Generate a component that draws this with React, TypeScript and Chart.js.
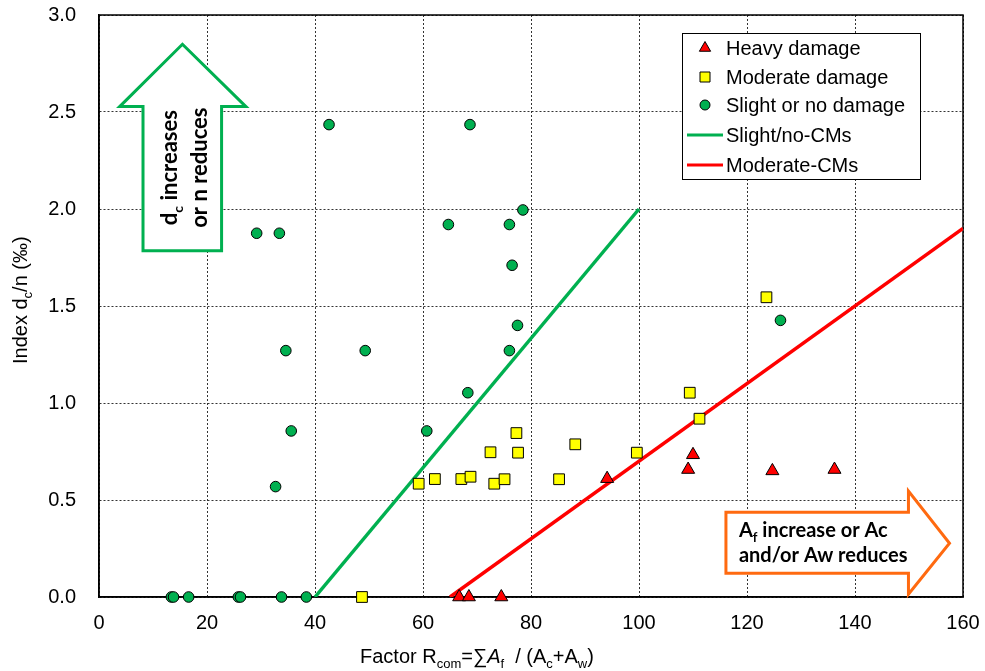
import React, { useEffect, useRef } from 'react';
import { Chart, registerables } from 'chart.js';

Chart.register(...registerables);

// ---- data ----
const heavyX = [66.7, 68.5, 74.5, 94.1, 109.1, 110.0, 124.7, 136.2];
const heavyY = [0, 0, 0, 0.61, 0.657, 0.733, 0.65, 0.657];

const moderateX = [48.7, 59.2, 62.2, 67.1, 68.8, 72.5, 73.2, 75.1, 77.3, 77.6, 85.2, 88.2, 99.6, 109.4, 111.2, 123.6];
const moderateY = [0, 0.584, 0.608, 0.608, 0.62, 0.746, 0.584, 0.607, 0.845, 0.744, 0.607, 0.787, 0.744, 1.053, 0.919, 1.545];

const slightX = [13.4, 13.8, 16.6, 25.8, 26.2, 33.8, 38.4, 29.2, 33.4, 42.6, 68.7, 78.5, 64.7, 76.0, 76.5, 77.5, 76.0, 49.3, 34.6, 68.3, 35.6, 32.7, 60.7, 126.2];
const slightY = [0, 0, 0, 0, 0, 0, 0, 1.875, 1.875, 2.435, 2.435, 1.995, 1.92, 1.92, 1.71, 1.40, 1.27, 1.27, 1.27, 1.053, 0.856, 0.569, 0.856, 1.426];

const slightLineX = [40, 100];
const slightLineY = [0, 2.0];
const moderateLineX = [65, 160];
const moderateLineY = [0, 1.9];

const xTicks = [0, 20, 40, 60, 80, 100, 120, 140, 160];
const yTicks = [0, 0.5, 1.0, 1.5, 2.0, 2.5, 3.0];

const legendLabels = ['Heavy damage', 'Moderate damage', 'Slight or no damage', 'Slight/no-CMs', 'Moderate-CMs'];

// arrow annotations, in data units
const upArrow = { tipX: 15.45, tipY: 2.849, headY: 2.528, headL: 3.83, headR: 27.2, shaftL: 8.15, shaftR: 22.7, bottomY: 1.785 };
const rightArrow = { left: 116.1, top: 0.4366, bottom: 0.122, shaftEnd: 149.9, headTop: 0.546, headBottom: 0.0139, tipX: 157.5, tipY: 0.277 };

const GREEN = '#00B050';
const RED = '#FF0000';
const YELLOW = '#FFFF00';
const ORANGE = '#FF6A10';
const FONT = '"Liberation Sans", Arial, sans-serif';

type Part = { t: string; sub?: boolean; italic?: boolean };

function richWidth(ctx: CanvasRenderingContext2D, parts: Part[], size: number, family: string, weight = '') {
  let w = 0;
  for (const p of parts) {
    const s = p.sub ? Math.round(size * 0.65) : size;
    ctx.font = `${p.italic ? 'italic ' : ''}${weight}${s}px ${family}`;
    w += ctx.measureText(p.t).width;
  }
  return w;
}

function drawRich(ctx: CanvasRenderingContext2D, parts: Part[], x: number, y: number, size: number, family: string, weight = '') {
  let cx = x;
  ctx.textBaseline = 'alphabetic';
  ctx.textAlign = 'left';
  for (const p of parts) {
    const s = p.sub ? Math.round(size * 0.65) : size;
    ctx.font = `${p.italic ? 'italic ' : ''}${weight}${s}px ${family}`;
    ctx.fillText(p.t, cx, y + (p.sub ? size * 0.25 : 0));
    cx += ctx.measureText(p.t).width;
  }
}

function marker(ctx: CanvasRenderingContext2D, kind: string, x: number, y: number) {
  ctx.save();
  ctx.lineWidth = 1;
  ctx.strokeStyle = '#000';
  ctx.beginPath();
  if (kind === 'triangle') {
    ctx.fillStyle = RED;
    const r = 6.5;
    ctx.moveTo(x, y - r);
    ctx.lineTo(x + r * 0.866, y + r * 0.5);
    ctx.lineTo(x - r * 0.866, y + r * 0.5);
    ctx.closePath();
  } else if (kind === 'rect') {
    ctx.fillStyle = YELLOW;
    ctx.rect(x - 5, y - 5, 10, 10);
  } else {
    ctx.fillStyle = GREEN;
    ctx.arc(x, y, 5, 0, Math.PI * 2);
  }
  ctx.fill();
  ctx.stroke();
  ctx.restore();
}

const overlay = {
  id: 'overlay',
  beforeDatasetsDraw(chart: any) {
    const { ctx, chartArea: a, scales } = chart;
    const X = (v: number) => scales.x.getPixelForValue(v);
    const Y = (v: number) => scales.y.getPixelForValue(v);
    ctx.save();
    // plot frame
    ctx.strokeStyle = '#000';
    ctx.lineWidth = 1.5;
    ctx.strokeRect(a.left, a.top, a.right - a.left, a.bottom - a.top);

    // green up arrow
    const u = upArrow;
    ctx.beginPath();
    ctx.moveTo(X(u.tipX), Y(u.tipY));
    ctx.lineTo(X(u.headR), Y(u.headY));
    ctx.lineTo(X(u.shaftR), Y(u.headY));
    ctx.lineTo(X(u.shaftR), Y(u.bottomY));
    ctx.lineTo(X(u.shaftL), Y(u.bottomY));
    ctx.lineTo(X(u.shaftL), Y(u.headY));
    ctx.lineTo(X(u.headL), Y(u.headY));
    ctx.closePath();
    ctx.fillStyle = '#fff';
    ctx.fill();
    ctx.lineWidth = 3;
    ctx.strokeStyle = GREEN;
    ctx.lineJoin = 'miter';
    ctx.stroke();

    ctx.fillStyle = '#000';
    const cy = (Y(u.headY) + Y(u.bottomY)) / 2 - 11;
    const midX = (X(u.shaftL) + X(u.shaftR)) / 2;
    const lines: Part[][] = [
      [{ t: 'd' }, { t: 'c', sub: true }, { t: ' increases' }],
      [{ t: 'or n reduces' }],
    ];
    const fam = 'Lato, "Open Sans", sans-serif';
    lines.forEach((parts, i) => {
      const w = richWidth(ctx, parts, 22, fam, 'bold ');
      ctx.save();
      ctx.translate(midX - 5 + i * 30, cy);
      ctx.rotate(-Math.PI / 2);
      drawRich(ctx, parts, -w / 2, 0, 22, fam, 'bold ');
      ctx.restore();
    });

    // orange right arrow
    const r = rightArrow;
    ctx.beginPath();
    ctx.moveTo(X(r.left), Y(r.top));
    ctx.lineTo(X(r.shaftEnd), Y(r.top));
    ctx.lineTo(X(r.shaftEnd), Y(r.headTop));
    ctx.lineTo(X(r.tipX), Y(r.tipY));
    ctx.lineTo(X(r.shaftEnd), Y(r.headBottom));
    ctx.lineTo(X(r.shaftEnd), Y(r.bottom));
    ctx.lineTo(X(r.left), Y(r.bottom));
    ctx.closePath();
    ctx.fillStyle = '#fff';
    ctx.fill();
    ctx.lineWidth = 3;
    ctx.strokeStyle = ORANGE;
    ctx.stroke();
    ctx.fillStyle = '#000';
    const lx = X(r.left) + 13;
    const ty = Y(r.top);
    drawRich(ctx, [{ t: 'A' }, { t: 'f', sub: true }, { t: ' increase or Ac' }], lx, ty + 25, 20, fam, 'bold ');
    drawRich(ctx, [{ t: 'and/or Aw reduces' }], lx, ty + 50, 20, fam, 'bold ');
    ctx.restore();
  },
  afterDraw(chart: any) {
    const { ctx, chartArea: a } = chart;
    ctx.save();
    // legend
    const lx = a.right - 281, ly = a.top + 18, lw = 238, lh = 146;
    ctx.fillStyle = '#fff';
    ctx.fillRect(lx, ly, lw, lh);
    ctx.strokeStyle = '#000';
    ctx.lineWidth = 1;
    ctx.strokeRect(lx + 0.5, ly + 0.5, lw, lh);
    const rows = [15, 44, 72, 102, 132];
    const kinds = ['triangle', 'rect', 'circle', 'gline', 'rline'];
    legendLabels.forEach((lab, i) => {
      const y = ly + rows[i];
      const k = kinds[i];
      if (k === 'gline' || k === 'rline') {
        ctx.strokeStyle = k === 'gline' ? GREEN : RED;
        ctx.lineWidth = 3;
        ctx.beginPath();
        ctx.moveTo(lx + 5, y);
        ctx.lineTo(lx + 41, y);
        ctx.stroke();
      } else {
        marker(ctx, k, lx + 23, y);
      }
      ctx.fillStyle = '#000';
      ctx.font = `20px ${FONT}`;
      ctx.textAlign = 'left';
      ctx.textBaseline = 'middle';
      ctx.fillText(lab, lx + 44, y + 1);
    });

    // axis titles
    ctx.fillStyle = '#000';
    ctx.save();
    ctx.translate(27, 364);
    ctx.rotate(-Math.PI / 2);
    drawRich(ctx, [{ t: 'Index d' }, { t: 'c', sub: true }, { t: '/n (‰)' }], 0, 0, 20, FONT);
    ctx.restore();

    drawRich(
      ctx,
      [
        { t: 'Factor R' }, { t: 'com', sub: true }, { t: '=∑' }, { t: 'A', italic: true }, { t: 'f', sub: true },
        { t: '  / (A' }, { t: 'c', sub: true }, { t: '+A' }, { t: 'w', sub: true }, { t: ')' },
      ],
      360, 663, 20, FONT
    );
    ctx.restore();
  },
};

function toPts(xs: number[], ys: number[]) {
  return xs.map((x, i) => ({ x, y: ys[i] }));
}

function zeroPadding(s: any) {
  s.paddingTop = 0;
  s.paddingBottom = 0;
  s.paddingLeft = 0;
  s.paddingRight = 0;
}

export default function App() {
  const ref = useRef<HTMLCanvasElement | null>(null);
  useEffect(() => {
    document.body.style.margin = '0';
    const canvas = ref.current!;
    const chart = new Chart(canvas, {
      type: 'scatter',
      data: {
        datasets: [
          {
            label: legendLabels[0],
            data: toPts(heavyX, heavyY),
            pointStyle: 'triangle',
            pointRadius: 7.5,
            pointHoverRadius: 7.5,
            backgroundColor: RED,
            borderColor: '#000',
            borderWidth: 1,
            clip: false,
          },
          {
            label: legendLabels[1],
            data: toPts(moderateX, moderateY),
            pointStyle: 'rect',
            pointRadius: 7.6,
            pointHoverRadius: 7.6,
            backgroundColor: YELLOW,
            borderColor: '#000',
            borderWidth: 1,
            clip: false,
          },
          {
            label: legendLabels[2],
            data: toPts(slightX, slightY),
            pointStyle: 'circle',
            pointRadius: 5.3,
            pointHoverRadius: 5.3,
            backgroundColor: GREEN,
            borderColor: '#000',
            borderWidth: 1,
            clip: false,
          },
          {
            label: legendLabels[3],
            data: toPts(slightLineX, slightLineY),
            showLine: true,
            pointRadius: 0,
            borderColor: GREEN,
            borderWidth: 3.5,
            backgroundColor: GREEN,
          },
          {
            label: legendLabels[4],
            data: toPts(moderateLineX, moderateLineY),
            showLine: true,
            pointRadius: 0,
            borderColor: RED,
            borderWidth: 3.5,
            backgroundColor: RED,
          },
        ],
      } as any,
      options: {
        responsive: false,
        animation: false,
        events: [],
        layout: { autoPadding: false, padding: { top: 15, right: 22, left: 0, bottom: 0 } },
        plugins: { legend: { display: false }, tooltip: { enabled: false }, title: { display: false } },
        scales: {
          x: {
            type: 'linear',
            min: 0,
            max: 160,
            afterBuildTicks: (s: any) => { s.ticks = xTicks.map((v) => ({ value: v })); },
            afterFit: (s: any) => { s.height = 74; zeroPadding(s); },
            grid: { color: '#333', lineWidth: 1, drawTicks: false },
            border: { display: true, color: '#000', width: 1.5, dash: [2, 2] },
            ticks: { color: '#000', font: { family: FONT, size: 20 }, padding: 14, maxRotation: 0 },
          },
          y: {
            type: 'linear',
            min: 0,
            max: 3,
            afterBuildTicks: (s: any) => { s.ticks = yTicks.map((v) => ({ value: v })); },
            afterFit: (s: any) => { s.width = 99; zeroPadding(s); },
            grid: { color: '#333', lineWidth: 1, drawTicks: false },
            border: { display: true, color: '#000', width: 1.5, dash: [2, 2] },
            ticks: {
              color: '#000',
              font: { family: FONT, size: 20 },
              padding: 23,
              callback: (v: any) => Number(v).toFixed(1),
            },
          },
        },
      } as any,
      plugins: [overlay],
    });
    return () => chart.destroy();
  }, []);
  return (
    <div style={{ position: 'fixed', left: 0, top: 0, width: 985, height: 671, background: '#fff' }}>
      <canvas ref={ref} width={985} height={671} />
    </div>
  );
}
